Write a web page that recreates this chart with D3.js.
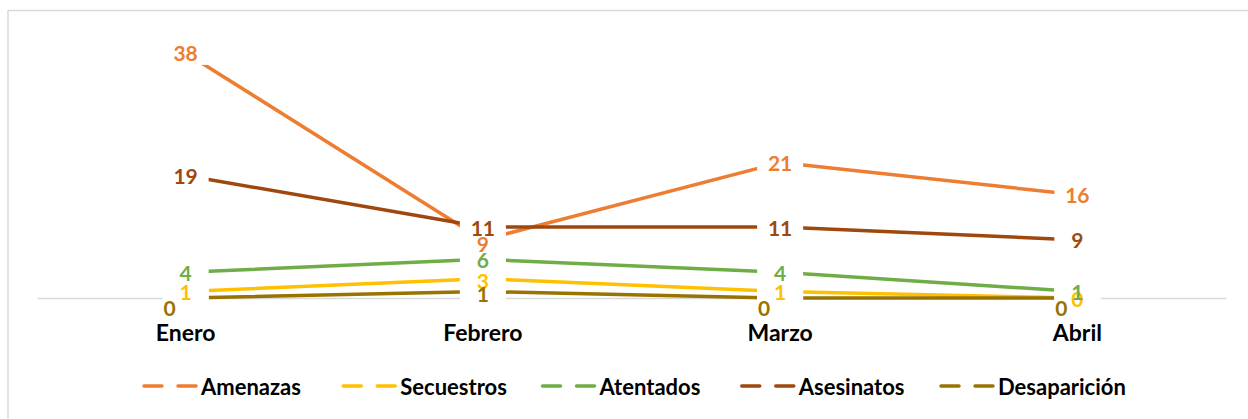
<!DOCTYPE html>
<html><head><meta charset="utf-8">
<script src="https://cdn.jsdelivr.net/npm/d3@7"></script>
<style>
body{margin:0;background:#fff}
svg{display:block}
text{font-family:Lato,"Open Sans",sans-serif;font-weight:700}
</style></head>
<body><svg id="c" width="1248" height="419"></svg>
<script>
// ---- data ----
const categories = ["Enero", "Febrero", "Marzo", "Abril"];
const seriesNames = ["Amenazas", "Secuestros", "Atentados", "Asesinatos", "Desaparición"];
const amenazas = [38, 9, 21, 16];
const secuestros = [1, 3, 1, 0];
const atentados = [4, 6, 4, 1];
const asesinatos = [19, 11, 11, 9];
const desaparicion = [0, 1, 0, 0];
const seriesColors = ["#ED7D31", "#FFC000", "#70AD47", "#9E480E", "#997300"];

const seriesValues = [amenazas, secuestros, atentados, asesinatos, desaparicion];
const series = seriesNames.map((n, i) => ({name: n, values: seriesValues[i], color: seriesColors[i]}));

const svg = d3.select("#c");
const W = 1248, H = 419;

// chart border (top + left visible)
svg.append("line").attr("x1", 8).attr("x2", W).attr("y1", 10.5).attr("y2", 10.5)
  .attr("stroke", "#d9d9d9").attr("stroke-width", 1.5);
svg.append("line").attr("x1", 8).attr("x2", 8).attr("y1", 10).attr("y2", H)
  .attr("stroke", "#d9d9d9").attr("stroke-width", 1.5);

const plotL = 37, plotR = 1226;
const x = d3.scaleBand().domain(categories).range([plotL, plotR]).paddingInner(0).paddingOuter(0);
const cx = c => x(c) + x.bandwidth() / 2;
const y = d3.scaleLinear().domain([0, 40]).range([298, 40]);

// baseline axis
const xAxis = d3.axisBottom(x).tickSize(0).tickPadding(0);
const ax = svg.append("g").attr("transform", `translate(0,${y(0)})`).call(xAxis);
ax.select(".domain").attr("stroke", "#d9d9d9").attr("stroke-width", 1.5);
ax.selectAll(".tick text")
  .attr("dy", 0).attr("y", 43)
  .style("font-family", "Lato, 'Open Sans', sans-serif")
  .style("font-weight", 700).style("font-size", "23px").attr("fill", "#000");

// lines
const line = d3.line().x((d, i) => cx(categories[i])).y(d => y(d));
svg.append("g").selectAll("path").data(series).join("path")
  .attr("d", d => line(d.values))
  .attr("fill", "none").attr("stroke", d => d.color)
  .attr("stroke-width", 3.5).attr("stroke-linecap", "round").attr("stroke-linejoin", "round");

// data label placement (Excel style: centred on point, zeros of last series nudged)
const labels = [];
series.forEach((s, si) => {
  s.values.forEach((v, i) => {
    let dx = 0, dy = 0;
    if (si === 4 && v === 0) { dx = -16; dy = 9; }
    if (si === 0 && i === 1) { dy = 4; }
    if (si === 1 && i === 1) { dy = 2; }
    if (si === 4 && i === 1) { dy = 2; }
    labels.push({v, color: s.color, px: cx(categories[i]), py: y(v), dx, dy});
  });
});
// white label boxes
svg.append("g").selectAll("rect").data(labels).join("rect")
  .attr("x", d => d.px - 23).attr("width", 46)
  .attr("y", d => d.py - 12).attr("height", 24)
  .attr("fill", "#fff");
svg.append("g").selectAll("text").data(labels).join("text")
  .attr("x", d => d.px + d.dx).attr("y", d => d.py + d.dy)
  .attr("text-anchor", "middle").attr("dominant-baseline", "central")
  .attr("font-size", 21).attr("fill", d => d.color)
  .text(d => d.v);

// legend
const legX = d3.scaleLinear().domain([0, 4]).range([143, 940]);
const lg = svg.append("g").selectAll("g").data(series).join("g")
  .attr("transform", (d, i) => `translate(${legX(i)},386)`);
lg.append("line").attr("x1", 1).attr("x2", 19).attr("y1", 0).attr("y2", 0)
  .attr("stroke", d => d.color).attr("stroke-width", 3.5).attr("stroke-linecap", "round");
lg.append("line").attr("x1", 35).attr("x2", 53).attr("y1", 0).attr("y2", 0)
  .attr("stroke", d => d.color).attr("stroke-width", 3.5).attr("stroke-linecap", "round");
lg.append("text").attr("x", 58).attr("y", 0).attr("dominant-baseline", "central")
  .attr("font-size", 22).attr("fill", "#000").text(d => d.name);
</script>
</body></html>
